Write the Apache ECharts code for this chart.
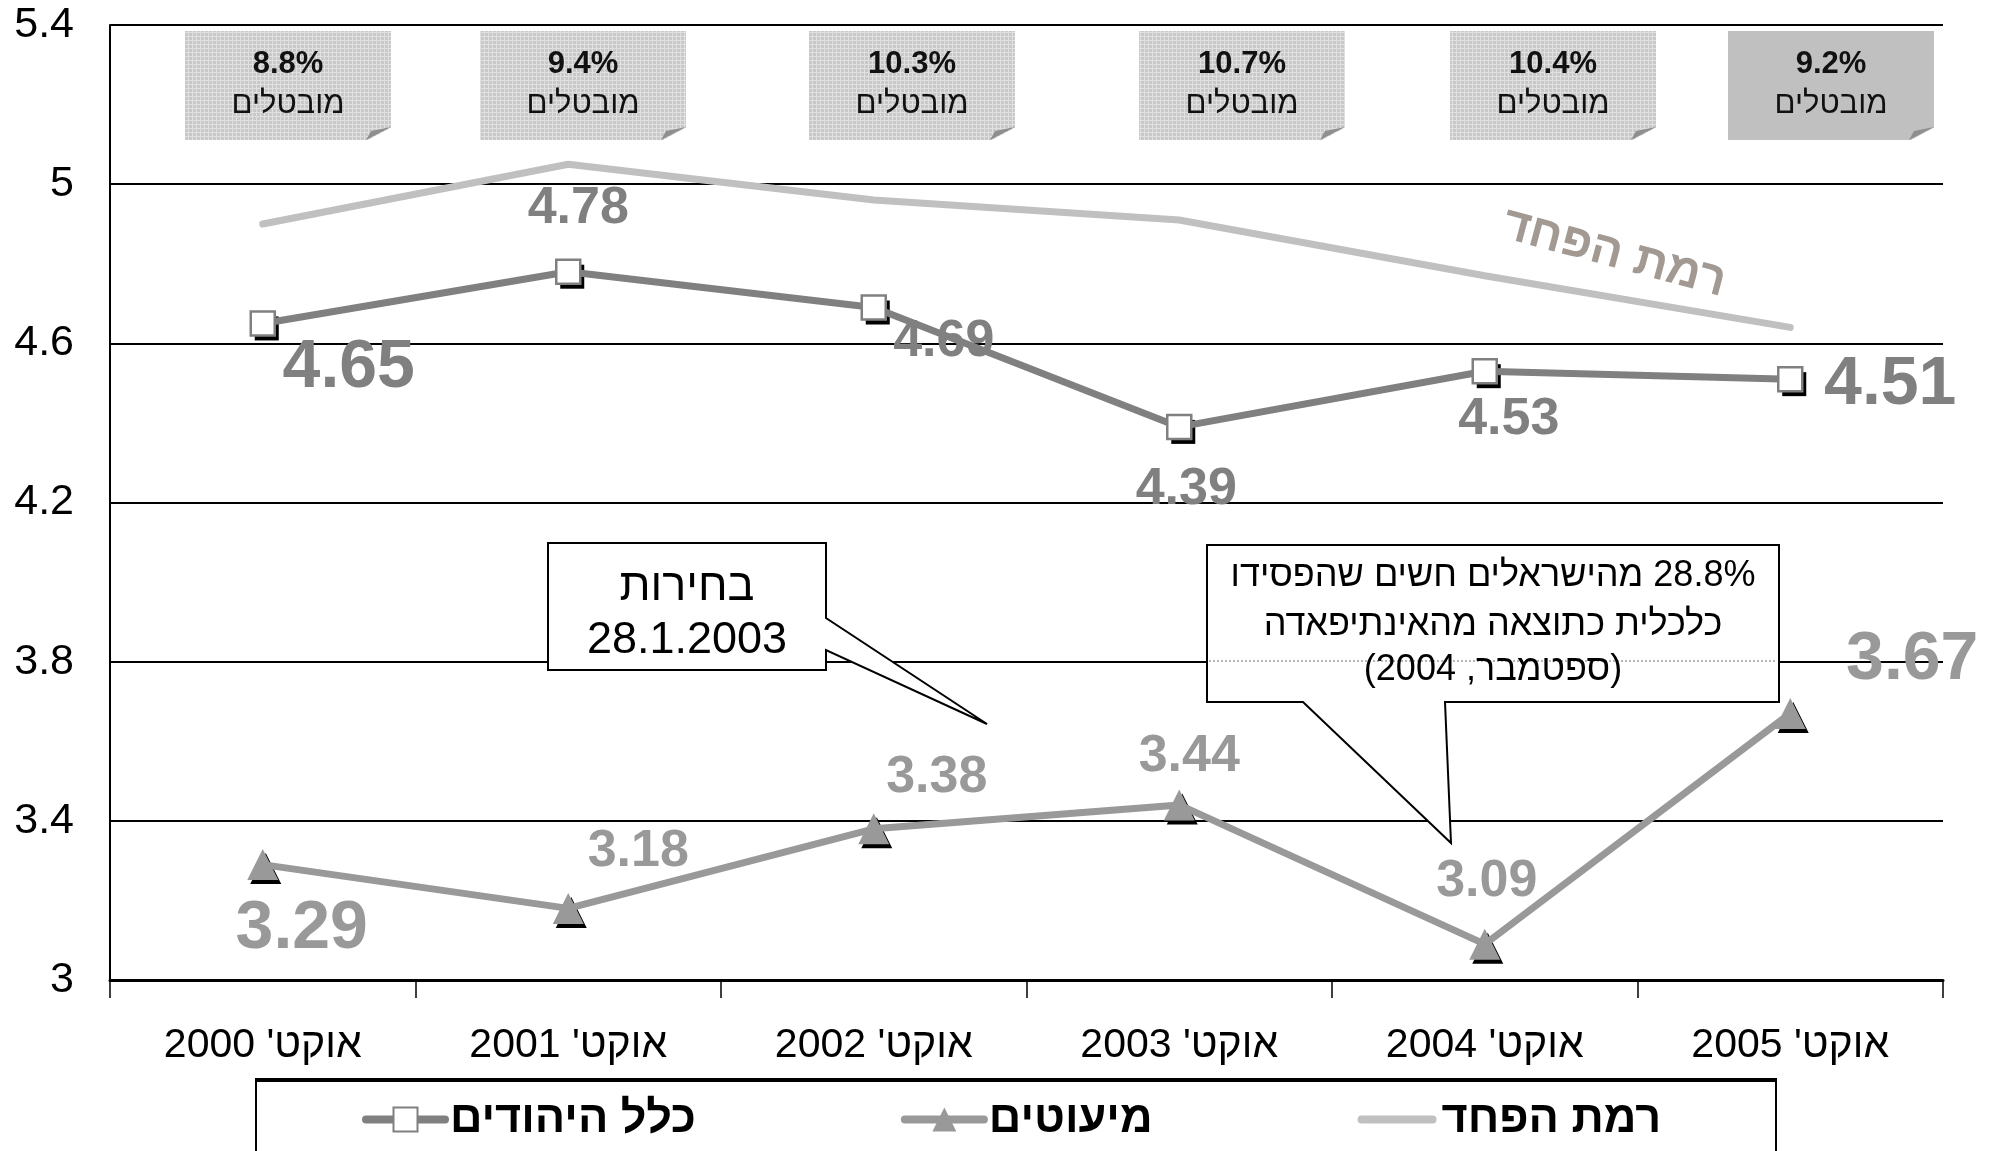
<!DOCTYPE html>
<html><head><meta charset="utf-8">
<script src="https://cdn.jsdelivr.net/npm/echarts@6/dist/echarts.min.js"></script>
<style>html,body{margin:0;padding:0;background:#fff}#chart{width:2000px;height:1151px;direction:rtl}</style>
</head><body><div id="chart"></div>
<script>
// ---------- data ----------
const categories = ["אוקט' 2000", "אוקט' 2001", "אוקט' 2002", "אוקט' 2003", "אוקט' 2004", "אוקט' 2005"];
const seriesNames = ['כלל היהודים', 'מיעוטים', 'רמת הפחד'];
const jewsValues = [4.65, 4.78, 4.69, 4.39, 4.53, 4.51];
const minorityValues = [3.29, 3.18, 3.38, 3.44, 3.09, 3.67];
const fearValues = [4.90, 5.05, 4.96, 4.91, 4.77, 4.64];
const unemploymentRates = ['8.8%', '9.4%', '10.3%', '10.7%', '10.4%', '9.2%'];
const unemploymentWord = 'מובטלים';
const yMin = 3, yMax = 5.4, yStep = 0.4;
const electionNote = ['בחירות', '28.1.2003'];
const intifadaNote = ['28.8% מהישראלים חשים שהפסידו', 'כלכלית כתוצאה מהאינתיפאדה', '(ספטמבר, 2004)'];
const fearTag = 'רמת הפחד';

// ---------- styling (positions / sizes) ----------
const FONT = "'Liberation Sans', Arial, sans-serif";
const jewsLabelStyle = [[68, 86, 45], [52, 10, -63], [52, 70, 34], [52, 7, 63], [52, 24, 48], [68, 100, 6]];
const minorityLabelStyle = [[68, 39, 65], [52, 70, -57], [52, 63, -51], [52, 10, -48], [52, 2, -63], [68, 122, -53]];
const boxLeft = [185, 480, 809, 1139, 1450, 1728];
const BOX_W = 206, BOX_TOP = 31, BOX_H = 109;

// pattern for the note boxes
const pc = document.createElement('canvas'); pc.width = 4; pc.height = 4;
const g = pc.getContext('2d');
g.fillStyle = '#c8c8c8'; g.fillRect(0, 0, 4, 4);
g.fillStyle = '#e0e0e0'; g.fillRect(0, 0, 4, 1); g.fillRect(0, 0, 1, 4);

function makeData(vals, styles) {
  return vals.map((v, i) => ({
    value: v,
    label: { fontSize: styles[i][0], offset: [styles[i][1], styles[i][2]] }
  }));
}

const graphics = [];
unemploymentRates.forEach((t, i) => {
  const x = boxLeft[i], y = BOX_TOP, R = x + BOX_W, B = y + BOX_H;
  const last = i === unemploymentRates.length - 1;
  graphics.push({ type: 'rect', shape: { x: x, y: y, width: BOX_W, height: BOX_H },
    style: { fill: last ? '#c0c0c0' : { image: pc, repeat: 'repeat' } }, z: 10 });
  graphics.push({ type: 'polygon', shape: { points: [[R + 1, B - 13], [R + 1, B + 1], [R - 25, B + 1]] },
    style: { fill: '#fff' }, z: 11 });
  graphics.push({ type: 'polygon', shape: { points: [[R - 25, B], [R, B - 13], [R - 20, B - 9]] },
    style: { fill: '#8f8f8f' }, z: 12 });
  graphics.push({ type: 'text', x: x + BOX_W / 2, y: 64, z: 13,
    style: { text: t, fontSize: 31, fontWeight: 'bold', fontFamily: FONT, fill: '#111', align: 'center', verticalAlign: 'middle' } });
  graphics.push({ type: 'text', x: x + BOX_W / 2, y: 104, z: 13,
    style: { text: unemploymentWord, fontSize: 31, fontFamily: FONT, fill: '#111', align: 'center', verticalAlign: 'middle' } });
});

// callout 1
graphics.push({ type: 'polygon', z: 20,
  shape: { points: [[548, 543], [826, 543], [826, 618], [987, 724], [826, 650], [826, 670], [548, 670]] },
  style: { fill: '#fff', stroke: '#000', lineWidth: 2 } });
graphics.push({ type: 'text', x: 687, y: 588, z: 21,
  style: { text: electionNote[0], fontSize: 45, fontFamily: FONT, fill: '#000', align: 'center', verticalAlign: 'middle' } });
graphics.push({ type: 'text', x: 687, y: 641, z: 21,
  style: { text: electionNote[1], fontSize: 45, fontFamily: FONT, fill: '#000', align: 'center', verticalAlign: 'middle' } });
// callout 2
graphics.push({ type: 'polygon', z: 20,
  shape: { points: [[1207, 545], [1779, 545], [1779, 702], [1445, 702], [1451, 843], [1303, 702], [1207, 702]] },
  style: { fill: '#fff', stroke: '#000', lineWidth: 2 } });
graphics.push({ type: 'line', z: 20.5, shape: { x1: 1209, y1: 661, x2: 1777, y2: 661 },
  style: { stroke: '#a0a0a0', lineWidth: 1.5, lineDash: [2, 2] } });
[576, 625, 670].forEach((yy, k) => graphics.push({ type: 'text', x: 1493, y: yy, z: 21,
  style: { text: intifadaNote[k], fontSize: 36, fontFamily: FONT, fill: '#000', align: 'center', verticalAlign: 'middle' } }));

// fear tag
graphics.push({ type: 'text', x: 1614, y: 254, rotation: -15 * Math.PI / 180, z: 15,
  style: { text: fearTag, fontSize: 47, fontWeight: 'bold', fontFamily: FONT, fill: '#a29a92', align: 'center', verticalAlign: 'middle' } });

// legend frame
graphics.push({ type: 'line', z: 5, shape: { x1: 255, y1: 1080, x2: 1777, y2: 1080 }, style: { stroke: '#000', lineWidth: 4 } });
graphics.push({ type: 'line', z: 5, shape: { x1: 256, y1: 1080, x2: 256, y2: 1160 }, style: { stroke: '#000', lineWidth: 2 } });
graphics.push({ type: 'line', z: 5, shape: { x1: 1776, y1: 1080, x2: 1776, y2: 1160 }, style: { stroke: '#000', lineWidth: 2 } });

const shadowStyle = { show: false };
const chart = echarts.init(document.getElementById('chart'), null, { renderer: 'canvas' });
chart.setOption({
  animation: false,
  backgroundColor: '#fff',
  textStyle: { fontFamily: FONT },
  grid: { left: 110, right: 57, top: 25, bottom: 171, containLabel: false },
  legend: {
    data: [seriesNames[0], seriesNames[1],
      { name: seriesNames[2], icon: 'path://M4,0 L76,0 A4,4 0 0 1 76,8 L4,8 A4,4 0 0 1 4,0 Z' }],
    left: 362, top: 1097, padding: 0, itemGap: 205, itemWidth: 79, itemHeight: 30,
    selectedMode: false,
    lineStyle: { width: 8, cap: 'round' },
    textStyle: { fontSize: 45, fontWeight: 'bold', color: '#000', fontFamily: FONT }
  },
  xAxis: {
    type: 'category', data: categories, boundaryGap: true,
    axisLine: { lineStyle: { color: '#000', width: 3 } },
    axisTick: { show: true, length: 18, lineStyle: { color: '#000', width: 1.5 } },
    axisLabel: { fontSize: 41, color: '#000', margin: 45, fontFamily: FONT }
  },
  yAxis: {
    type: 'value', min: yMin, max: yMax, interval: yStep,
    axisLine: { show: true, lineStyle: { color: '#000', width: 2 } },
    axisTick: { show: false },
    axisLabel: { fontSize: 43, color: '#000', margin: 36, fontFamily: FONT },
    splitLine: { lineStyle: { color: '#000', width: 2 } }
  },
  series: [
    { // marker shadows (same data), not in legend
      name: 'shadowJ', type: 'line', data: jewsValues, z: 3.5, symbol: 'rect', symbolSize: 24,
      symbolOffset: [4, 5], lineStyle: { opacity: 0, width: 0 }, itemStyle: { color: '#000' },
      label: shadowStyle, silent: true
    },
    { name: 'shadowM', type: 'line', data: minorityValues, z: 3.5, symbol: 'triangle', symbolSize: 31,
      symbolOffset: [3, 4], lineStyle: { opacity: 0, width: 0 }, itemStyle: { color: '#000' },
      label: shadowStyle, silent: true
    },
    {
      name: seriesNames[0], type: 'line', data: makeData(jewsValues, jewsLabelStyle),
      z: 4, symbol: 'rect', symbolSize: 24,
      lineStyle: { color: '#808080', width: 7 },
      itemStyle: { color: '#fff', borderColor: '#808080', borderWidth: 2.5 },
      label: { show: true, position: 'inside', color: '#808080', fontWeight: 'bold', fontFamily: FONT, formatter: p => p.value.toFixed(2) }
    },
    {
      name: seriesNames[1], type: 'line', data: makeData(minorityValues, minorityLabelStyle),
      z: 4, symbol: 'triangle', symbolSize: 31,
      lineStyle: { color: '#999999', width: 7 },
      itemStyle: { color: '#999999' },
      label: { show: true, position: 'inside', color: '#999999', fontWeight: 'bold', fontFamily: FONT, formatter: p => p.value.toFixed(2) }
    },
    {
      name: seriesNames[2], type: 'line', data: fearValues, z: 3,
      symbol: 'none', lineStyle: { color: '#c0c0c0', width: 7, cap: 'round' },
      itemStyle: { color: '#c0c0c0' }
    }
  ],
  graphic: graphics
});
</script></body></html>
